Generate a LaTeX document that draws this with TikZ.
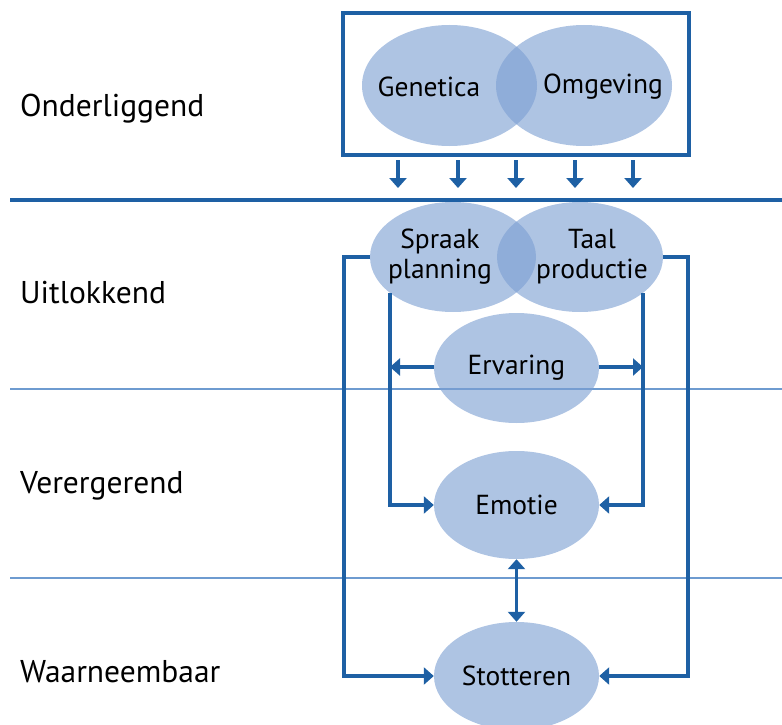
\documentclass[tikz,border=0pt]{standalone}
\usepackage{fontspec}
\setmainfont{PT Sans}
\usetikzlibrary{arrows.meta,shapes.geometric,calc}
\definecolor{lineblue}{RGB}{30,96,164}
\definecolor{thinblue}{RGB}{110,155,208}
\definecolor{ellblue}{RGB}{124,159,210}
\tikzset{
  ell/.style={ellipse, fill=ellblue, fill opacity=0.62, text opacity=1, inner sep=0pt,
    minimum width=166pt, minimum height=110pt, font=\fontsize{27.5}{30}\selectfont, align=center},
  intext/.style={font=\fontsize{27.5}{30}\selectfont, align=center, inner sep=0pt},
  conn/.style={draw=lineblue, line width=3.7pt},
  arr/.style={conn, -{Triangle[length=10pt,width=17pt]}},
  darr/.style={conn, {Triangle[length=10pt,width=17pt]}-{Triangle[length=10pt,width=17pt]}},
  lvl/.style={anchor=base west, inner sep=0pt, font=\fontsize{31.5}{36}\selectfont}
}
\begin{document}
\begin{tikzpicture}[x=1pt,y=-1pt]
\useasboundingbox (0,0) rectangle (782,725);
% level separators
\draw[draw=lineblue, line width=3.7pt] (10,200) -- (782,200);
\draw[draw=thinblue, line width=2pt] (10,389) -- (782,389);
\draw[draw=thinblue, line width=2pt] (10,578) -- (782,578);
% level labels
\node[lvl] (l1) at (20,116) {Onderliggend};
\node[lvl] (l2) at (20,303) {Uitlokkend};
\node[lvl] (l3) at (20,493) {Verergerend};
\node[lvl] (l4) at (20,682) {Waarneembaar};
% top box
\node[draw=lineblue, line width=3.5pt, minimum width=346pt, minimum height=142pt, inner sep=0pt] (box) at (516,84) {};
\node[ell, minimum width=175pt, minimum height=121pt] (gen) at (449.5,85.5) {};
\node[ell, minimum width=176pt, minimum height=121pt] (omg) at (584,85.5) {};
\node[intext] (gent) at (429,87) {Genetica};
\node[intext] (omgt) at (603,87) {Omgeving};
% arrows from box
\foreach \x [count=\i] in {398,458,516,575,633} {
  \coordinate (s\i) at (\x,160);
  \coordinate (e\i) at (\x,188);
  \draw[arr] (s\i) -- (e\i);
}
% middle ellipses
\node[ell] (spr) at (453,257) {};
\node[ell] (taal) at (580,257) {};
\node[intext] (sprt) at (440,257) {Spraak\\planning};
\node[intext] (taalt) at (592,257) {Taal\\productie};
\node[ell, minimum width=165pt] (erv) at (516.5,368) {Ervaring};
\node[ell, minimum width=165pt, minimum height=108pt] (emo) at (516.5,505) {Emotie};
\node[ell, minimum width=165pt, minimum height=108pt] (sto) at (516.5,676) {Stotteren};
% inner loop
\coordinate (il) at (390,367);
\coordinate (ir) at (643,367);
\path (spr.center) ++(-63,36) coordinate (spb);
\path (taal.center) ++(63,36) coordinate (tab);
\draw[arr] (spb) -- (spb |- emo.west) -- (emo.west);
\draw[arr] (tab) -- (tab |- emo.east) -- (emo.east);
\draw[arr] (erv.west |- il) -- (il);
\draw[arr] (erv.east |- ir) -- (ir);
% outer loop
\draw[arr] (spr.west) -- (344,257) -- (344,676) -- (sto.west);
\draw[arr] (taal.east) -- (688,257) -- (688,676) -- (sto.east);
% emotie <-> stotteren
\draw[darr] (emo.south) -- (sto.north);
\end{tikzpicture}
\end{document}
